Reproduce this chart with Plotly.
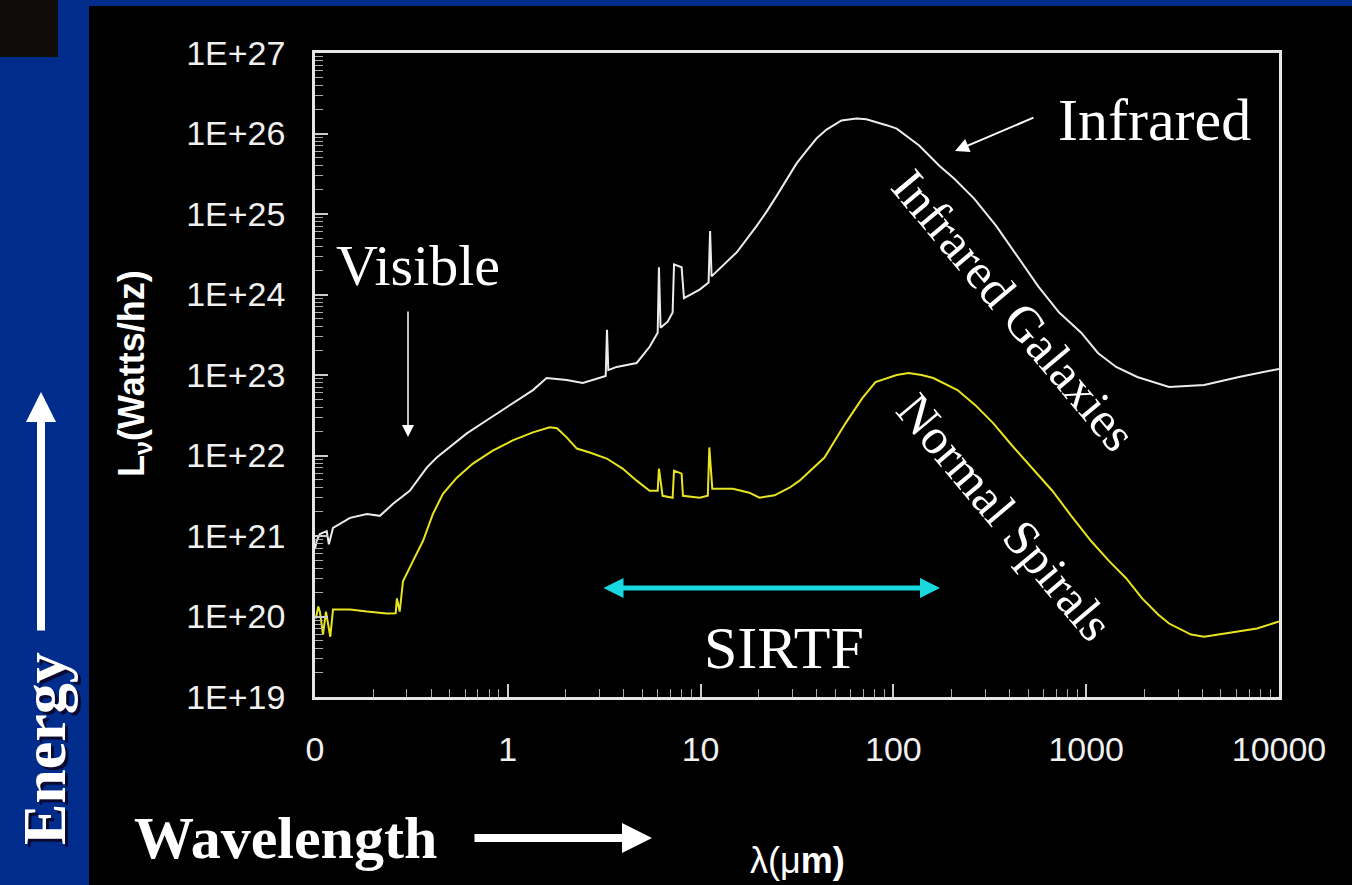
import plotly.graph_objects as go

# ---------------- data ----------------
ir_wavelength = [0.100, 0.102, 0.106, 0.115, 0.118, 0.124, 0.152, 0.186, 0.217, 0.254, 0.310, 0.380,
                 0.428, 0.500, 0.613, 0.778, 0.99, 1.35, 1.59, 2.02, 2.45, 3.00, 3.22, 3.27, 3.32,
                 3.67, 4.66, 5.44, 5.99, 6.08, 6.20, 6.75, 7.16, 7.28, 7.97, 8.20, 9.89, 11.0, 11.2,
                 11.4, 15.4, 19.5, 22.0, 24.8, 31.4, 35.4, 39.9, 45.0, 53.8, 64.3, 72.4, 93.1, 104,
                 136, 173, 207, 263, 342, 439, 564, 724, 942, 1150, 1430, 1840, 2690, 4090, 6200,
                 10000]
ir_lum = [6.9e20, 8.7e20, 1.06e21, 1.15e21, 7.9e20, 1.26e21, 1.68e21, 1.88e21, 1.78e21, 2.51e21,
          3.65e21, 7.08e21, 9.44e21, 1.26e22, 1.88e22, 2.74e22, 3.98e22, 6.49e22, 9.17e22, 8.66e22,
          7.94e22, 9.17e22, 9.7e22, 3.65e23, 1.15e23, 1.26e23, 1.41e23, 2.24e23, 3.35e23, 2.18e24,
          3.87e23, 4.6e23, 5.96e23, 2.37e24, 2.18e24, 9.0e23, 1.15e24, 1.41e24, 6.13e24, 1.68e24,
          3.35e24, 7.08e24, 1.07e25, 1.68e25, 4.22e25, 6.1e25, 8.66e25, 1.12e26, 1.45e26, 1.54e26,
          1.5e26, 1.26e26, 1.15e26, 7.08e25, 3.98e25, 2.74e25, 1.54e25, 7.08e24, 2.99e24, 1.26e24,
          5.96e23, 3.35e23, 1.88e23, 1.26e23, 9.44e22, 7.08e22, 7.5e22, 9.44e22, 1.19e23]

sp_wavelength = [0.101, 0.104, 0.106, 0.110, 0.114, 0.120, 0.124, 0.152, 0.186, 0.236, 0.262, 0.266,
                 0.275, 0.286, 0.322, 0.363, 0.409, 0.461, 0.544, 0.659, 0.836, 1.06, 1.35, 1.65,
                 1.80, 2.02, 2.28, 2.66, 3.26, 3.94, 4.66, 5.44, 5.99, 6.08, 6.35, 7.16, 7.28, 7.97,
                 8.10, 9.89, 10.9, 11.1, 11.5, 14.7, 17.9, 20.2, 24.2, 28.9, 32.6, 43.9, 56.4, 69.0,
                 80.7, 93.1, 104, 120, 140, 161, 186, 215, 266, 330, 404, 500, 667, 836, 1060, 1315,
                 1610, 1950, 2360, 2690, 3500, 4090, 6200, 7690, 10000]
sp_lum = [9.44e19, 1.33e20, 1.15e20, 5.96e19, 1.15e20, 5.6e19, 1.22e20, 1.22e20, 1.15e20, 1.09e20,
          1.1e20, 1.68e20, 1.15e20, 2.74e20, 4.87e20, 8.66e20, 1.88e21, 3.35e21, 5.31e21, 7.94e21,
          1.15e22, 1.54e22, 1.94e22, 2.24e22, 2.18e22, 1.68e22, 1.22e22, 1.09e22, 9.17e21, 6.88e21,
          4.87e21, 3.65e21, 3.65e21, 6.88e21, 3.16e21, 2.99e21, 6.49e21, 5.96e21, 3.16e21, 2.99e21,
          3.16e21, 1.26e22, 3.87e21, 3.87e21, 3.45e21, 2.99e21, 3.2e21, 3.98e21, 4.87e21, 9.44e21,
          2.51e22, 5.16e22, 8.18e22, 9.17e22, 1.0e23, 1.06e23, 1.0e23, 9.17e22, 7.72e22, 6.49e22,
          4.22e22, 2.51e22, 1.41e22, 7.94e21, 3.65e21, 1.78e21, 8.66e20, 4.87e20, 2.99e20, 1.68e20,
          1.06e20, 8.18e19, 5.96e19, 5.62e19, 6.49e19, 7.08e19, 8.66e19]

x_tickvals = [0.1, 1, 10, 100, 1000, 10000]
x_ticktext = ["0", "1", "10", "100", "1000", "10000"]
y_tickvals = [1e19, 1e20, 1e21, 1e22, 1e23, 1e24, 1e25, 1e26, 1e27]
y_ticktext = ["1E+19", "1E+20", "1E+21", "1E+22", "1E+23", "1E+24", "1E+25", "1E+26", "1E+27"]

# ---------------- figure ----------------
W, H = 1352, 885
L, R, T, B = 315, 73, 53, 188
PW, PH = W - L - R, H - T - B


def px(x):
    return (x - L) / PW


def py(y):
    return (H - B - y) / PH


fig = go.Figure()
fig.add_trace(go.Scatter(x=ir_wavelength, y=ir_lum, mode="lines",
                         line=dict(color="#ececec", width=2), name="Infrared Galaxies",
                         hoverinfo="skip"))
fig.add_trace(go.Scatter(x=sp_wavelength, y=sp_lum, mode="lines",
                         line=dict(color="#e8e420", width=2), name="Normal Spirals",
                         hoverinfo="skip"))

axis_common = dict(
    showline=True, mirror=True, linecolor="#e6e6e6", linewidth=2.5,
    showgrid=False, zeroline=False, ticks="inside", ticklen=13, tickwidth=1.5,
    tickcolor="#cccccc", tickmode="array",
    tickfont=dict(family="Liberation Sans, Arial", size=34, color="#f0f0f0"),
    minor=dict(ticks="inside", dtick="D1", ticklen=8, tickwidth=1, tickcolor="#aaaaaa",
               showgrid=False),
)

fig.update_xaxes(type="log", range=[-1, 4], tickvals=x_tickvals, ticktext=x_ticktext,
                 ticklabelstandoff=20, **axis_common)
fig.update_yaxes(type="log", range=[19, 27], tickvals=y_tickvals, ticktext=y_ticktext,
                 ticklabelstandoff=20, **axis_common)

shapes = [
    dict(type="rect", xref="paper", yref="paper", x0=px(89), x1=px(W + 5), y0=py(H + 5), y1=py(6),
         fillcolor="black", line=dict(width=0), layer="below"),
    dict(type="rect", xref="paper", yref="paper", x0=px(-5), x1=px(58), y0=py(57), y1=py(-5),
         fillcolor="#100c0a", line=dict(width=0), layer="below"),
]

serif = "Liberation Serif, Times New Roman, serif"
sans = "Liberation Sans, Arial, sans-serif"

ann = []


def text(x, y, s, size, family=serif, angle=0, color="white"):
    ann.append(dict(xref="paper", yref="paper", x=px(x), y=py(y), text=s, showarrow=False,
                    xanchor="center", yanchor="middle", textangle=angle,
                    font=dict(family=family, size=size, color=color)))


def arrow(tipx, tipy, tailx, taily, color, width, size, head=2, side="end"):
    ann.append(dict(xref="paper", yref="paper", x=px(tipx), y=py(tipy), ax=tailx - tipx,
                    ay=taily - tipy, axref="pixel", ayref="pixel", text="", showarrow=True,
                    arrowhead=head, arrowsize=size, arrowwidth=width, arrowcolor=color,
                    arrowside=side, startarrowhead=head, startarrowsize=size))


text(418, 265, "Visible", 58)
arrow(408, 437, 408, 310, "white", 1.5, 1.6)
text(1154, 120, "Infrared", 60)
arrow(955, 151, 1035, 117, "white", 2, 1.4)
text(1014, 310, "Infrared Galaxies", 50, angle=50)
text(1005, 517, "Normal Spirals", 50, angle=50)
arrow(940, 588, 602, 588, "#18d8e0", 5, 0.8, side="end+start")
text(784, 648, "SIRTF", 60)

# left / bottom decorations
text(47, 752, "<b>Energy</b>", 62, angle=-90, color="#0a0a30")
text(44, 749, "<b>Energy</b>", 62, angle=-90)
arrow(41, 392, 41, 632, "white", 8, 0.75)
text(285, 838, "<b>Wavelength</b>", 60)
arrow(652, 838, 473, 838, "white", 8, 0.75)

# axis titles
text(134, 374, "<b>L<sub>ν</sub>(Watts/hz)</b>", 36, family=sans, angle=-90)
text(797, 860, "λ(μ<b>m)</b>", 36, family=sans)

fig.update_layout(
    width=W, height=H, margin=dict(l=L, r=R, t=T, b=B, pad=0),
    paper_bgcolor="#002c8c", plot_bgcolor="black", showlegend=False,
    shapes=shapes, annotations=ann,
)

fig.write_html("out.html")
